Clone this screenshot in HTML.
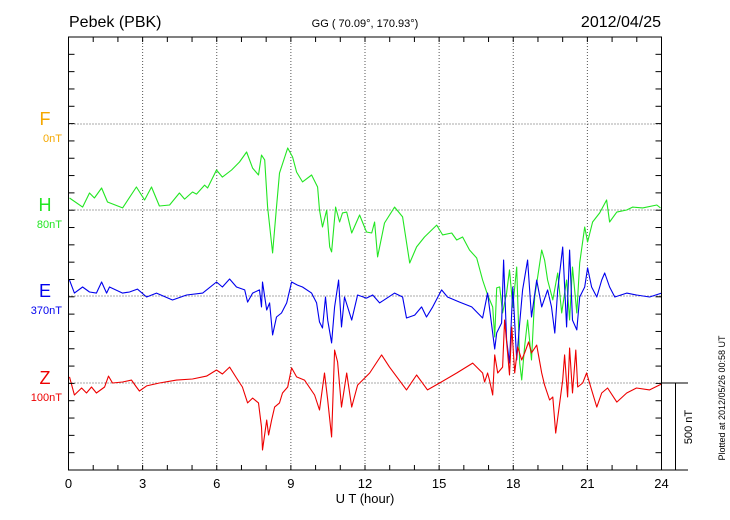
<!DOCTYPE html>
<html><head><meta charset="utf-8"><style>
body{margin:0;background:#fff;}
svg{display:block;font-family:"Liberation Sans",sans-serif;}
</style></head><body>
<svg id="chart" width="730" height="520" viewBox="0 0 730 520">
<rect width="730" height="520" fill="#fff"/>
<text x="69" y="27" font-size="16">Pebek (PBK)</text>
<text x="365" y="27" font-size="11" text-anchor="middle">GG ( 70.09°, 170.93°)</text>
<text x="661" y="27" font-size="16" text-anchor="end">2012/04/25</text>
<g id="grid"></g>
<g id="series"></g>
<g id="axes"></g>
<text x="365" y="503" font-size="13" text-anchor="middle">U T (hour)</text>
<text transform="translate(692,427) rotate(-90)" font-size="11" text-anchor="middle">500 nT</text>
<text transform="translate(725,398) rotate(-90)" font-size="9" text-anchor="middle">Plotted at 2012/05/26 00:58 UT</text>
</svg>
<script>
const xTicks=[0,3,6,9,12,15,18,21,24];
const seriesNames=["F","H","E","Z"];
const offsetLabels=["0nT","80nT","370nT","100nT"];
const seriesColors=["#f5a800","#22e622","#0000ee","#ee0000"];
const hT=[0.04,0.57,0.85,1.05,1.34,1.58,2.19,2.75,3.08,3.36,3.68,4.09,4.49,4.70,5.02,5.18,5.51,5.63,5.99,6.23,6.60,6.92,7.21,7.45,7.69,7.81,7.94,8.06,8.26,8.42,8.54,8.87,9.07,9.23,9.47,9.84,10.08,10.16,10.28,10.45,10.57,10.65,10.81,10.97,11.09,11.26,11.46,11.78,12.06,12.27,12.39,12.51,12.79,13.20,13.52,13.81,14.09,14.41,14.90,15.14,15.51,15.71,15.95,16.23,16.52,16.76,16.96,17.17,17.25,17.33,17.45,17.57,17.73,17.85,17.98,18.14,18.26,18.34,18.46,18.58,18.74,18.87,19.15,19.27,19.39,19.60,19.80,19.96,20.16,20.28,20.40,20.57,20.69,20.89,21.01,21.21,21.50,21.78,21.90,22.19,22.59,22.83,23.24,23.81,23.96];
const hV=[69,17,98,69,127,46,12,133,58,133,23,29,98,63,104,92,144,127,231,190,231,277,335,242,202,317,289,17,-248,17,213,358,306,219,162,202,133,0,-98,0,-213,-242,17,-69,-17,-12,-133,-29,-127,-133,-69,-271,-75,17,-40,-306,-213,-156,-87,-144,-133,-173,-156,-231,-277,-404,-490,-560,-733,-450,-444,-594,-479,-346,-560,-329,-883,-981,-790,-635,-866,-502,-231,-289,-404,-519,-364,-594,-404,-635,-329,-594,-306,-98,-185,-69,-17,58,-69,-12,0,17,12,29,12];
const eT=[0.04,0.24,0.57,0.85,1.13,1.34,1.54,1.66,2.19,2.47,2.79,3.16,3.56,4.21,4.78,5.43,5.99,6.23,6.52,6.80,7.13,7.25,7.45,7.73,7.81,7.85,8.02,8.14,8.26,8.42,8.62,8.83,9.03,9.27,9.47,9.84,10.04,10.16,10.28,10.40,10.49,10.65,10.77,10.93,11.05,11.17,11.46,11.70,12.06,12.31,12.59,13.20,13.52,13.68,14.01,14.29,14.49,14.74,15.10,15.34,15.83,16.32,16.76,16.96,17.25,17.33,17.53,17.61,17.73,17.85,17.98,18.14,18.26,18.38,18.58,18.74,18.95,19.15,19.39,19.55,19.68,19.80,20.00,20.16,20.28,20.40,20.57,20.69,20.89,21.01,21.17,21.38,21.58,21.70,21.90,22.11,22.59,22.99,23.52,24.00];
const eV=[92,17,52,23,17,81,17,52,17,23,40,-6,17,-23,6,17,81,52,98,52,35,-35,17,35,-63,81,-81,-40,-225,-121,-98,-40,81,63,52,17,-40,-150,-185,-6,-139,-271,-63,92,-179,-6,-139,6,-12,6,-40,17,-6,-127,-110,-63,-121,-63,35,-6,-35,-63,-127,17,-306,-213,-156,208,-254,-387,52,-369,-156,35,208,-121,92,-63,35,-63,-214,35,283,-179,265,-139,-196,-6,52,162,52,-6,92,133,52,-6,17,6,-6,17];
const zT=[0.04,0.24,0.53,0.73,0.93,1.13,1.46,1.62,1.78,2.19,2.55,2.75,2.87,3.16,3.68,4.37,5.02,5.59,5.99,6.23,6.52,6.80,7.04,7.25,7.45,7.69,7.81,7.85,8.02,8.10,8.22,8.34,8.54,8.66,8.87,9.03,9.23,9.55,9.96,10.16,10.36,10.49,10.65,10.77,10.89,11.05,11.26,11.46,11.70,12.19,12.67,12.99,13.68,14.09,14.53,15.02,15.71,16.36,16.76,16.84,16.96,17.04,17.17,17.25,17.37,17.57,17.65,17.77,17.85,17.94,18.06,18.18,18.34,18.46,18.62,18.74,18.95,19.15,19.27,19.47,19.60,19.72,19.88,20.00,20.08,20.20,20.28,20.40,20.53,20.61,20.81,20.97,21.17,21.38,21.58,21.82,22.19,22.59,22.99,23.52,24.00];
const zV=[35,-69,-29,-58,-23,-58,-23,40,0,6,17,-23,-46,-17,0,17,23,40,75,52,92,29,-23,-115,-87,-115,-254,-387,-214,-300,-214,-139,-115,-58,-23,87,35,17,-69,-156,58,-98,-312,190,121,-139,58,-139,-12,58,162,92,-40,46,-40,0,58,115,58,6,58,17,-69,162,58,92,364,173,46,323,58,208,133,173,237,173,219,58,-12,-98,-81,-289,-115,17,162,-81,202,-58,190,-23,0,58,-40,-139,-58,-29,-110,-58,-29,-40,-6];
const X0=68.5,X1=661.5,Y0=37,Y1=470;
const baselines=[124,210,296,383];
const nTperPx=500/86.6;
const xs=h=>X0+(X1-X0)*h/24;
const ys=(b,v)=>b-v/nTperPx;
const NS="http://www.w3.org/2000/svg";
function mk(tag,attrs,parent){const e=document.createElementNS(NS,tag);for(const k in attrs)e.setAttribute(k,attrs[k]);parent.appendChild(e);return e;}
const grid=document.getElementById('grid'),axes=document.getElementById('axes'),ser=document.getElementById('series');
xTicks.forEach((t,i)=>{
  if(t>0&&t<24){const l=mk('line',{x1:xs(t),x2:xs(t),y1:Y0,y2:Y1,stroke:'#555','stroke-dasharray':'1,2'},grid);
  
  }
  const tx=mk('text',{x:xs(t),y:488,'font-size':13,'text-anchor':'middle'},axes);tx.textContent=t;
  
  
});
baselines.forEach((b,i)=>{
  const l=mk('line',{x1:X0,x2:X1,y1:b,y2:b,stroke:'#555','stroke-dasharray':'1,2'},grid);
  
  
  const n=mk('text',{x:45,y:b+1,'font-size':18,'text-anchor':'middle',fill:seriesColors[i]},axes);n.textContent=seriesNames[i];
  
  
  const o=mk('text',{x:62,y:b+18,'font-size':11,'text-anchor':'end',fill:seriesColors[i]},axes);o.textContent=offsetLabels[i];
  
  
});
for(let h=1;h<24;h++){
  mk('line',{x1:xs(h),x2:xs(h),y1:Y0,y2:Y0+5,stroke:'#000'},axes);
  mk('line',{x1:xs(h),x2:xs(h),y1:Y1,y2:Y1-5,stroke:'#000'},axes);
}
for(let y=Y0;y<=Y1+1;y+=86.6/5){mk('line',{x1:X0,x2:X0+6,y1:y,y2:y,stroke:'#000'},axes);mk('line',{x1:X1,x2:X1-6,y1:y,y2:y,stroke:'#000'},axes);}
const frame=mk('rect',{x:X0,y:Y0,width:X1-X0,height:Y1-Y0,fill:'none',stroke:'#000'},axes);


mk('line',{x1:X1,x2:688,y1:383,y2:383,stroke:'#000'},axes);
mk('line',{x1:X1,x2:688,y1:Y1,y2:Y1,stroke:'#000'},axes);
const sb=mk('line',{x1:675.5,x2:675.5,y1:383,y2:Y1,stroke:'#000'},axes);


const data=[[hT,hV,1,'h-component-line'],[eT,eV,2,'e-component-line'],[zT,zV,3,'z-component-line']];
data.forEach(d=>{
  const pts=d[0].map((t,i)=>xs(t).toFixed(1)+','+ys(baselines[d[2]],d[1][i]).toFixed(1)).join(' ');
  const p=mk('polyline',{points:pts,fill:'none',stroke:seriesColors[d[2]],'stroke-width':1.1,'stroke-linejoin':'round'},ser);
  
  
});
</script>
</body></html>
